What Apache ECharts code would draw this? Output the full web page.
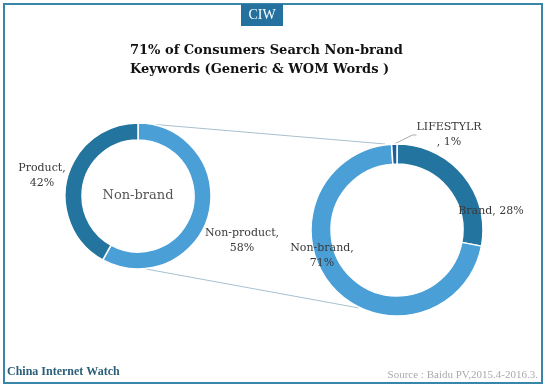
<!DOCTYPE html>
<html><head><meta charset="utf-8">
<script src="https://cdn.jsdelivr.net/npm/echarts@6/dist/echarts.min.js"></script>
<style>html,body{margin:0;padding:0;background:#fff}#c{width:547px;height:387px}</style>
</head><body><div id="c"></div>
<script>
const leftNames = ['Non-product', 'Product'];
const leftValues = [58, 42];
const rightNames = ['Brand', 'Non-brand', 'LIFESTYLR'];
const rightValues = [28, 71, 1];
const titleLines = ['71% of Consumers Search Non-brand', 'Keywords (Generic & WOM Words )'];

const DARK = '#23749e', LIGHT = '#4a9fd7', DEEP = '#1c5e9e';
const L = {cx: 138, cy: 196, r: 73, ri: 56};
const R = {cx: 397, cy: 230, r: 86, ri: 66};
const serif = '"DejaVu Serif", Georgia, serif';

const labelPos = {
  'Non-product': {x: 242, y: 241, fmt: '{b},\n{c}%'},
  'Product': {x: 42, y: 176, fmt: '{b},\n{c}%'},
  'Brand': {x: 491, y: 211, fmt: '{b}, {c}%'},
  'Non-brand': {x: 322, y: 256, fmt: '{b},\n{c}%'},
  'LIFESTYLR': {x: 449, y: 135, fmt: '{b}\n, {c}%'}
};
function mk(names, values, colors) {
  return names.map((n, i) => ({
    name: n, value: values[i], itemStyle: {color: colors[i]},
    label: {formatter: labelPos[n].fmt},
    labelLine: {show: n === 'LIFESTYLR', length: 6, length2: 4, lineStyle: {color: '#aaaaaa', width: 1}}
  }));
}
const chart = echarts.init(document.getElementById('c'));
const lblStyle = {show: true, position: 'outside', overflow: 'none', color: '#3a3a3a', fontFamily: serif, fontSize: 11, lineHeight: 15, align: 'center'};
function layoutFor(names) {
  return p => {
    const lp = labelPos[names[p.dataIndex]];
    return {x: lp.x, y: lp.y, align: 'center', verticalAlign: 'middle', hideOverlap: false};
  };
}
chart.setOption({
  animation: false,
  title: {
    text: titleLines.join('\n'), left: 125, top: 36,
    textStyle: {fontFamily: serif, fontWeight: 'bold', fontSize: 13, lineHeight: 19, color: '#111'}
  },
  graphic: [
    {type: 'rect', shape: {x: 4, y: 4, width: 538, height: 379}, style: {fill: 'none', stroke: '#3a86a8', lineWidth: 2}, z: 0},
    {type: 'rect', shape: {x: 241, y: 4, width: 42, height: 22}, style: {fill: '#2471a0'}},
    {type: 'text', x: 262, y: 15, style: {text: 'CIW', fill: '#fff', font: '14px "Liberation Serif", serif', textAlign: 'center', textVerticalAlign: 'middle'}},
    {type: 'line', shape: {x1: L.cx, y1: L.cy - L.r, x2: R.cx - 12, y2: R.cy - R.r}, style: {stroke: '#a8c0cf', lineWidth: 1}},
    {type: 'line', shape: {x1: L.cx + 8, y1: L.cy + L.r, x2: R.cx - 38, y2: R.cy + R.r - 8}, style: {stroke: '#a8c0cf', lineWidth: 1}},
    {type: 'text', x: L.cx, y: L.cy, style: {text: 'Non-brand', fill: '#555', font: '13px ' + serif, textAlign: 'center', textVerticalAlign: 'middle'}},
    {type: 'text', x: 7, y: 372, style: {text: 'China Internet Watch', fill: '#2b5f78', font: 'bold 12px "Liberation Serif", serif', textVerticalAlign: 'middle'}},
    {type: 'text', x: 538, y: 375, style: {text: 'Source : Baidu PV,2015.4-2016.3.', fill: '#aaaaaa', font: '11px "Liberation Serif", serif', textAlign: 'right', textVerticalAlign: 'middle'}}
  ],
  series: [
    {
      type: 'pie', center: [L.cx, L.cy], radius: [L.ri, L.r], startAngle: 90, clockwise: true, avoidLabelOverlap: false,
      itemStyle: {borderColor: '#fff', borderWidth: 1.5}, label: lblStyle,
      labelLayout: layoutFor(leftNames),
      data: mk(leftNames, leftValues, [LIGHT, DARK])
    },
    {
      type: 'pie', center: [R.cx, R.cy], radius: [R.ri, R.r], startAngle: 90, clockwise: true, avoidLabelOverlap: false,
      itemStyle: {borderColor: '#fff', borderWidth: 1.5}, label: lblStyle,
      labelLayout: layoutFor(rightNames),
      data: mk(rightNames, rightValues, [DARK, LIGHT, DEEP])
    }
  ]
});
</script></body></html>
